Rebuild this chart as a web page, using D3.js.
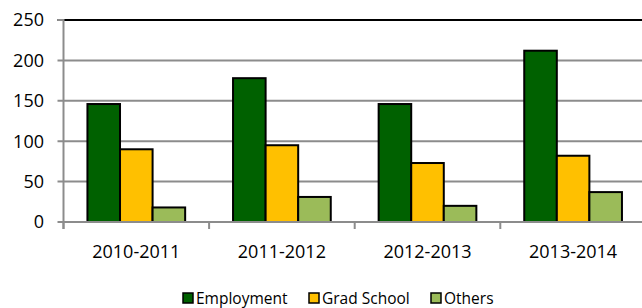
<!DOCTYPE html>
<html>
<head>
<meta charset="utf-8">
<script src="https://cdn.jsdelivr.net/npm/d3@7"></script>
<style>
  body { margin: 0; background: #fff; }
  svg { display: block; font-family: "Open Sans", sans-serif; }
</style>
</head>
<body>
<div id="chart"></div>
<script>
const years = ["2010-2011", "2011-2012", "2012-2013", "2013-2014"];
const seriesNames = ["Employment", "Grad School", "Others"];
const employment = [146, 178, 146, 212];
const gradSchool = [90, 95, 73, 82];
const others = [18, 31, 20, 37];
const yTicks = [0, 50, 100, 150, 200, 250];
const colors = ["#006100", "#ffc000", "#9bbb59"];

function drawBarChart(){
    const width = 642, height = 308;
    const left = 63.5, top = 20, bottom = 222;

    const svg = d3.select("#chart")
        .append("svg")
        .attr("width", width)
        .attr("height", height);

    const yScale = d3.scaleLinear().domain([0, 250]).range([bottom, top]);
    const x0 = d3.scaleBand().domain(years).range([left, left + 4 * 145.6]);
    const x1 = d3.scaleBand().domain(seriesNames).range([0, x0.bandwidth()]).paddingOuter(0.735);
    const color = d3.scaleOrdinal().domain(seriesNames).range(colors);

    // gridlines
    svg.append("g")
        .selectAll("line")
        .data(yTicks.filter(d => d > 0))
        .enter()
        .append("line")
        .attr("x1", left - 6)
        .attr("x2", width)
        .attr("y1", d => yScale(d))
        .attr("y2", d => yScale(d))
        .attr("stroke", d => d === 250 ? "#000" : "#8c8c8c")
        .attr("stroke-width", 2);

    // tick stub for top line in gray
    svg.append("line")
        .attr("x1", left - 6).attr("x2", left)
        .attr("y1", yScale(250)).attr("y2", yScale(250))
        .attr("stroke", "#8c8c8c").attr("stroke-width", 2);

    // y labels
    svg.append("g")
        .selectAll("text")
        .data(yTicks)
        .enter()
        .append("text")
        .attr("x", 44)
        .attr("y", d => yScale(d))
        .attr("dy", "0.36em")
        .attr("text-anchor", "end")
        .style("font-size", "18px")
        .attr("fill", "#000")
        .text(d => d);

    // bars
    const data = years.map((y, i) => ({ year: y, values: [employment[i], gradSchool[i], others[i]] }));
    svg.append("g")
        .selectAll("g")
        .data(data)
        .enter()
        .append("g")
        .attr("transform", d => `translate(${x0(d.year)},0)`)
        .selectAll("rect")
        .data(d => d.values.map((v, j) => ({ key: seriesNames[j], value: v })))
        .enter()
        .append("rect")
        .attr("x", d => x1(d.key))
        .attr("y", d => yScale(d.value))
        .attr("width", x1.bandwidth())
        .attr("height", d => bottom - yScale(d.value))
        .attr("fill", d => color(d.key))
        .attr("stroke", "#000")
        .attr("stroke-width", 2);

    // axes lines
    svg.append("line")
        .attr("x1", left).attr("x2", left)
        .attr("y1", top - 1).attr("y2", bottom + 7)
        .attr("stroke", "#8c8c8c").attr("stroke-width", 2);
    svg.append("line")
        .attr("x1", left - 6).attr("x2", width)
        .attr("y1", bottom).attr("y2", bottom)
        .attr("stroke", "#8c8c8c").attr("stroke-width", 2);

    // x ticks at band boundaries
    svg.append("g")
        .selectAll("line")
        .data(years)
        .enter()
        .append("line")
        .attr("x1", d => x0(d)).attr("x2", d => x0(d))
        .attr("y1", bottom).attr("y2", bottom + 7)
        .attr("stroke", "#8c8c8c").attr("stroke-width", 2);

    // x labels
    svg.append("g")
        .selectAll("text")
        .data(years)
        .enter()
        .append("text")
        .attr("x", d => x0(d) + x0.bandwidth() / 2)
        .attr("y", 258)
        .attr("text-anchor", "middle")
        .style("font-size", "18px")
        .text(d => d);

    // legend
    const legendX = [183, 309, 431];
    const legend = svg.append("g")
        .selectAll("g")
        .data(seriesNames)
        .enter()
        .append("g")
        .attr("transform", (d, i) => `translate(${legendX[i]},293)`);
    legend.append("rect")
        .attr("width", 10).attr("height", 10)
        .attr("fill", d => color(d))
        .attr("stroke", "#000").attr("stroke-width", 1.5);
    legend.append("text")
        .attr("x", 13)
        .attr("y", 11)
        .style("font-size", "15.5px")
        .text(d => d);
}

drawBarChart();
</script>
</body>
</html>
